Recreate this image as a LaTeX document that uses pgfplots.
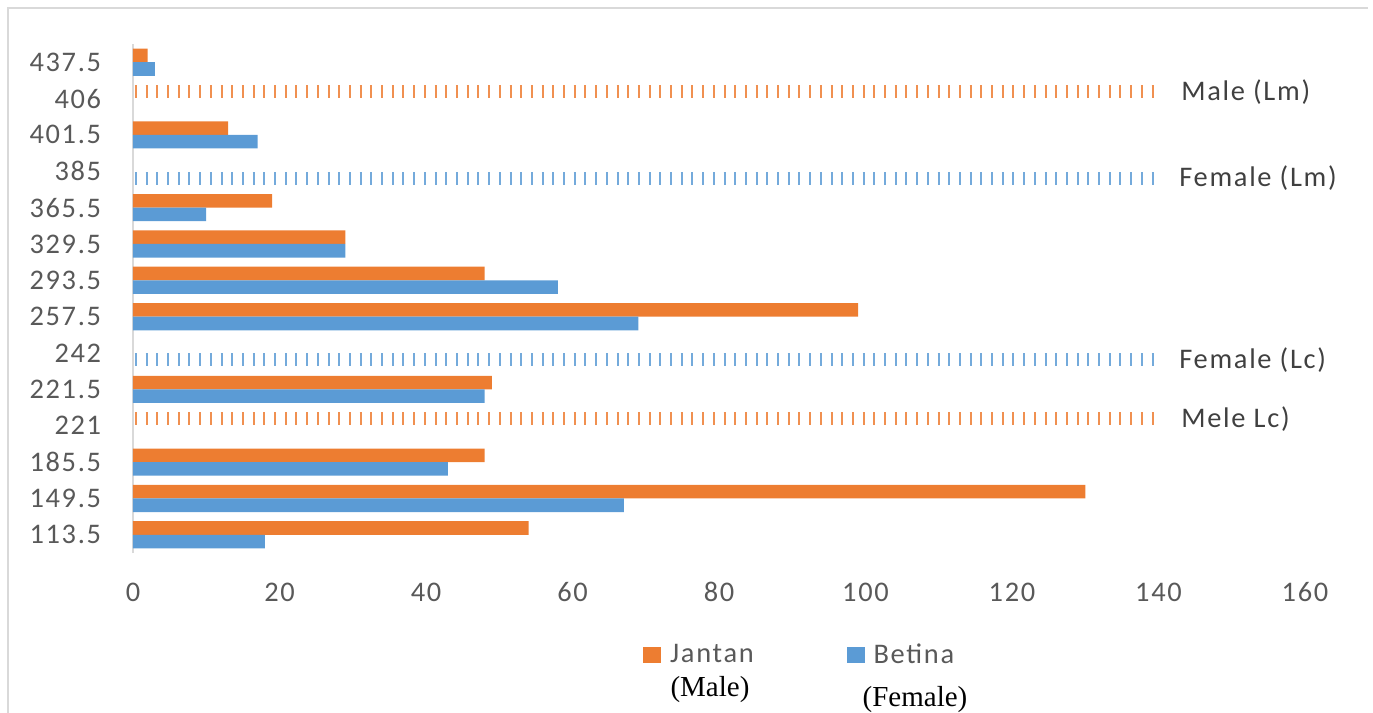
\documentclass[border=0pt]{standalone}
\usepackage{pgfplots}
\pgfplotsset{compat=1.18}
\usepackage{fontspec}
\setmainfont{Carlito}[LetterSpace=6.0]
\newfontfamily\timesfont{Liberation Serif}
\definecolor{janC}{HTML}{ED7D31}
\definecolor{betC}{HTML}{5B9BD5}
\definecolor{tickC}{HTML}{595959}
\definecolor{noteC}{HTML}{404040}
\definecolor{frameC}{HTML}{D9D9D9}
\newcommand\chartfont{\fontsize{14.2}{17}\selectfont}

\begin{document}
\begin{tikzpicture}
\begin{axis}[
  scale only axis, width=586pt, height=254.5pt,
  xmin=0, xmax=160, ymin=-0.5, ymax=13.5,
  xtick={0,20,...,160},
  ytick={0,...,13},
  yticklabels={113.5,149.5,185.5,221,221.5,242,257.5,293.5,329.5,365.5,385,401.5,406,437.5},
  axis y line*=left, axis x line*=bottom,
  x axis line style={draw=none},
  y axis line style={draw=frameC, line width=1pt},
  major tick length=0pt,
  tick style={draw=none},
  bar width=6.8pt,
  ticklabel style={font=\chartfont, text=tickC},
  xticklabel style={anchor=center, inner sep=0pt, yshift=-19.5pt},
  yticklabel style={anchor=east, inner sep=0pt, xshift=-15.75pt},
  /pgf/number format/assume math mode=true,
  legend columns=2,
  legend style={draw=none, fill=none, inner sep=0pt, at={(0.4352,-0.2004)}, anchor=west,
    font=\chartfont, text=tickC,
    /tikz/every even column/.append style={column sep=44.5pt}},
  clip=false,
]
% counts per length class: Jantan (male) above, Betina (female) below
\addplot[xbar, fill=janC, draw=none, bar shift=3.4pt, forget plot] coordinates {
  (54,0) (130,1) (48,2) (49,4) (99,6) (48,7) (29,8) (19,9) (13,11) (2,13)};
\addplot[xbar, fill=betC, draw=none, bar shift=-3.4pt, forget plot] coordinates {
  (18,0) (67,1) (43,2) (48,4) (69,6) (58,7) (29,8) (10,9) (17,11) (3,13)};

% reference lengths drawn as dashed rows
\addplot[forget plot, no marks, draw=janC!85, line width=6.5pt, dash pattern=on 1pt off 4.35pt, dash phase=4.35pt]
  coordinates {(0,12.187) (140,12.187)};
\addplot[forget plot, no marks, draw=betC!85, line width=6.5pt, dash pattern=on 1pt off 4.35pt, dash phase=4.35pt]
  coordinates {(0,9.813) (140,9.813)};
\addplot[forget plot, no marks, draw=betC!85, line width=6.5pt, dash pattern=on 1pt off 4.35pt, dash phase=4.35pt]
  coordinates {(0,4.813) (140,4.813)};
\addplot[forget plot, no marks, draw=janC!85, line width=6.5pt, dash pattern=on 1pt off 4.35pt, dash phase=4.35pt]
  coordinates {(0,3.187) (140,3.187)};

\node[anchor=west, inner sep=0pt, font=\chartfont, text=noteC, xshift=11.25pt] at (axis cs:140,12.187) {Male (Lm)};
\node[anchor=west, inner sep=0pt, font=\chartfont, text=noteC, xshift=10.25pt] at (axis cs:140,9.813) {Female (Lm)};
\node[anchor=west, inner sep=0pt, font=\chartfont, text=noteC, xshift=10.25pt] at (axis cs:140,4.813) {Female (Lc)};
\node[anchor=west, inner sep=0pt, font=\chartfont, text=noteC, xshift=11.25pt] at (axis cs:140,3.187) {Mele Lc)};

\addlegendimage{legend image code/.code={\fill[janC] (0pt,-3.75pt) rectangle (8.5pt,3.75pt); \path (11pt,0pt);}}
\addlegendentry{Jantan}
\addlegendimage{legend image code/.code={\fill[betC] (0pt,-3.75pt) rectangle (8.5pt,3.75pt); \path (11pt,0pt);}}
\addlegendentry{Betina}
\end{axis}

\node[font=\timesfont\fontsize{14.5}{17}\selectfont, text=black] at (288.5pt,-68.5pt) {(Male)};
\node[font=\timesfont\fontsize{14.5}{17}\selectfont, text=black] at (391pt,-73.5pt) {(Female)};

% chart frame
\draw[frameC, line width=1pt] (-62.5pt,-80pt) -- (-62.5pt,272.5pt) -- (617.5pt,272.5pt);

\pgfresetboundingbox
\useasboundingbox (-66.5pt,-80pt) rectangle (620pt,276.5pt);
\end{tikzpicture}
\end{document}
